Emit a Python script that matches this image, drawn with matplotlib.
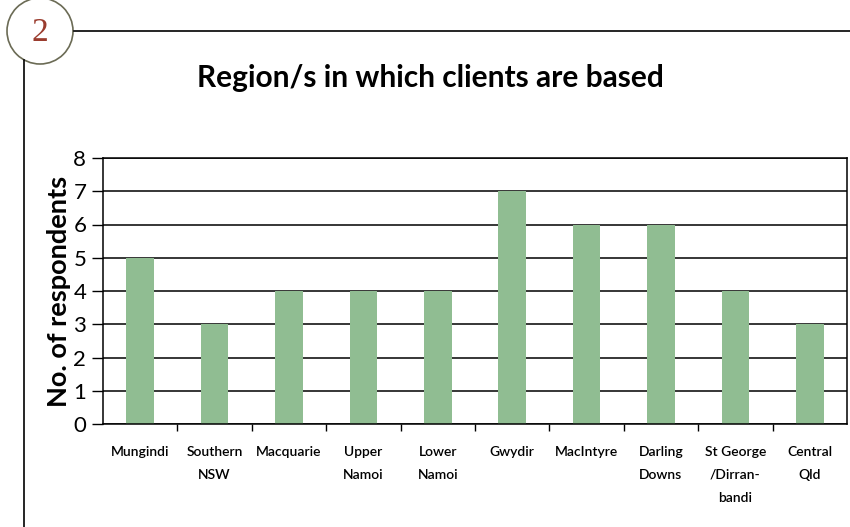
import matplotlib.pyplot as plt
from matplotlib.patches import Ellipse
from matplotlib.lines import Line2D

# data
regions = ["Mungindi", "Southern\nNSW", "Macquarie", "Upper\nNamoi", "Lower\nNamoi",
           "Gwydir", "MacIntyre", "Darling\nDowns", "St George\n/Dirran-\nbandi", "Central\nQld"]
respondents = [5, 3, 4, 4, 4, 7, 6, 6, 4, 3]
yticks = [0, 1, 2, 3, 4, 5, 6, 7, 8]

plt.rcParams['font.family'] = ['Lato', 'DejaVu Sans']

fig = plt.figure(figsize=(8.5, 5.27), dpi=100)

# page decoration: numbered circle and frame lines
fig.add_artist(Ellipse((40 / 850, 1 - 31 / 527), 66 / 850, 66 / 527, transform=fig.transFigure,
                       fill=False, lw=1.2, ec="#6b6b55"))
fig.text(40 / 850, 1 - 33 / 527, "2", ha="center", va="center", fontsize=24,
         family="Liberation Serif", color="#9a3c2e")
fig.add_artist(Line2D([74 / 850, 1.0], [1 - 31 / 527, 1 - 31 / 527], transform=fig.transFigure,
                      color="black", lw=1.2))
fig.add_artist(Line2D([24 / 850, 24 / 850], [1 - 60 / 527, 0], transform=fig.transFigure,
                      color="black", lw=1.2))

fig.text(430 / 850, 1 - 78 / 527, "Region/s in which clients are based", ha="center", va="center",
         fontsize=21.5, fontweight="bold")

ax = fig.add_axes([103 / 850, 1 - 424 / 527, 744 / 850, 266 / 527])
x = range(len(regions))
ax.bar(x, respondents, width=0.37, color="#90bd92", zorder=2)
ax.set_ylim(0, 8)
ax.set_xlim(-0.5, len(regions) - 0.5)
ax.set_yticks(yticks)
ax.tick_params(axis="y", labelsize=16, direction="out", length=8, width=1, pad=4)
ax.yaxis.grid(True, color="black", lw=1.1, zorder=1)
ax.set_xticks([i + 0.5 for i in range(len(regions) - 1)], minor=False)
ax.set_xticklabels([])
ax.tick_params(axis="x", direction="out", length=5, width=1)
for i, lab in enumerate(regions):
    ax.text(i, -0.66, lab, ha="center", va="top", fontsize=10, fontweight="semibold",
            linespacing=2.1, transform=ax.transData)
for s in ax.spines.values():
    s.set_linewidth(1.1)
ax.set_ylabel("No. of respondents", fontsize=19.5, fontweight="bold", labelpad=2)

fig.savefig("out.png", dpi=100)
